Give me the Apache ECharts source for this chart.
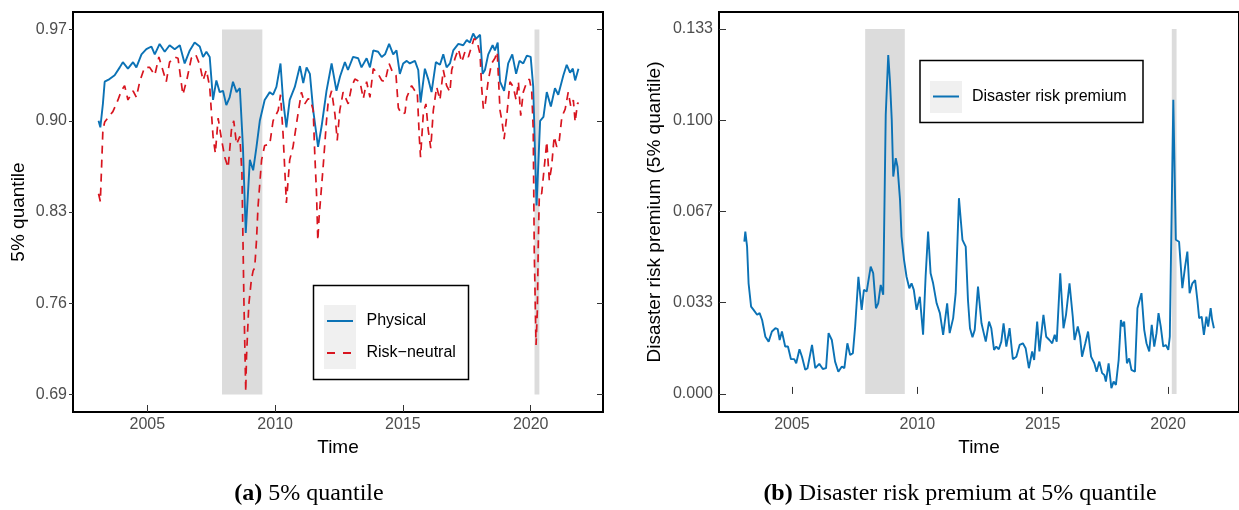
<!DOCTYPE html>
<html><head><meta charset="utf-8">
<script src="https://cdn.jsdelivr.net/npm/echarts@6/dist/echarts.min.js"></script>
<style>html,body{margin:0;padding:0;background:#fff}#c{width:1239px;height:510px}</style>
</head><body><div id="c"></div>
<script>
// ---- tick labels / categories ----
const xTicks = [2005, 2010, 2015, 2020];
const quantileTicks = [0.69, 0.76, 0.83, 0.90, 0.97];
const drpTicks = [0, 0.033333, 0.066667, 0.1, 0.133333];
const recessions = [[2007.92, 2009.50], [2020.15, 2020.34]];

// ---- Physical 5% quantile ----
const physYears = [
2003.09,2003.16,2003.26,2003.33,2003.52,2003.72,2003.92,2004.04,2004.24,2004.44,
2004.57,2004.77,2004.96,2005.16,2005.29,2005.48,2005.68,2005.87,2006.07,2006.27,
2006.46,2006.66,2006.85,2007.05,2007.18,2007.31,2007.44,2007.57,2007.70,2007.83,
2007.96,2008.09,2008.22,2008.35,2008.49,2008.62,2008.74,2008.85,2009.01,2009.14,
2009.27,2009.40,2009.59,2009.79,2009.92,2010.05,2010.21,2010.31,2010.44,2010.57,
2010.77,2010.97,2011.10,2011.23,2011.36,2011.49,2011.68,2011.82,2012.01,2012.21,
2012.40,2012.54,2012.73,2012.85,2013.05,2013.25,2013.38,2013.58,2013.71,2013.84,
2014.03,2014.17,2014.30,2014.46,2014.62,2014.75,2014.88,2015.01,2015.15,2015.27,
2015.47,2015.60,2015.69,2015.86,2015.99,2016.12,2016.29,2016.45,2016.58,2016.71,
2016.84,2016.97,2017.17,2017.36,2017.50,2017.62,2017.75,2017.86,2018.02,2018.12,
2018.21,2018.34,2018.51,2018.60,2018.71,2018.80,2018.96,2019.12,2019.28,2019.43,
2019.56,2019.71,2019.85,2020.00,2020.10,2020.17,2020.23,2020.37,2020.50,2020.63,
2020.79,2020.95,2021.08,2021.28,2021.41,2021.54,2021.65,2021.74,2021.87];
const physVals = [
0.900,0.895,0.913,0.930,0.932,0.935,0.941,0.945,0.940,0.945,
0.941,0.951,0.955,0.957,0.951,0.959,0.953,0.958,0.955,0.958,
0.944,0.954,0.960,0.957,0.949,0.953,0.949,0.916,0.931,0.922,
0.923,0.912,0.918,0.930,0.922,0.925,0.880,0.814,0.870,0.862,
0.880,0.900,0.916,0.922,0.920,0.926,0.944,0.916,0.895,0.916,
0.926,0.942,0.929,0.941,0.936,0.908,0.880,0.896,0.923,0.944,
0.923,0.934,0.945,0.939,0.949,0.948,0.941,0.948,0.941,0.954,
0.953,0.949,0.951,0.959,0.951,0.954,0.936,0.944,0.946,0.944,
0.946,0.939,0.914,0.940,0.932,0.922,0.945,0.943,0.951,0.941,
0.944,0.954,0.959,0.958,0.962,0.960,0.967,0.963,0.966,0.936,
0.939,0.951,0.958,0.954,0.960,0.930,0.923,0.944,0.951,0.936,
0.946,0.944,0.950,0.949,0.926,0.875,0.835,0.900,0.903,0.922,
0.911,0.925,0.920,0.935,0.943,0.937,0.940,0.931,0.940];

// ---- Risk-neutral 5% quantile ----
const rnYears = [
2003.09,2003.16,2003.26,2003.33,2003.52,2003.65,2003.85,2003.98,2004.11,2004.24,
2004.44,2004.57,2004.70,2004.89,2005.09,2005.29,2005.45,2005.74,2005.87,2006.07,
2006.20,2006.39,2006.55,2006.72,2006.89,2007.05,2007.18,2007.31,2007.44,2007.57,
2007.66,2007.77,2007.90,2008.03,2008.16,2008.29,2008.38,2008.49,2008.62,2008.70,
2008.78,2008.85,2008.88,2008.97,2009.07,2009.14,2009.20,2009.27,2009.33,2009.47,
2009.59,2009.79,2009.92,2010.12,2010.21,2010.31,2010.44,2010.57,2010.70,2010.90,
2011.03,2011.16,2011.29,2011.38,2011.49,2011.55,2011.62,2011.67,2011.72,2011.88,
2012.01,2012.07,2012.21,2012.34,2012.43,2012.53,2012.66,2012.86,2012.99,2013.12,
2013.32,2013.45,2013.58,2013.71,2013.84,2014.03,2014.17,2014.30,2014.46,2014.60,
2014.73,2014.82,2014.95,2015.08,2015.15,2015.34,2015.47,2015.56,2015.64,2015.69,
2015.80,2015.90,2015.99,2016.09,2016.19,2016.32,2016.45,2016.58,2016.71,2016.84,
2016.91,2017.04,2017.17,2017.30,2017.43,2017.56,2017.69,2017.78,2017.89,2018.02,
2018.08,2018.15,2018.21,2018.34,2018.47,2018.60,2018.69,2018.80,2018.89,2018.96,
2019.06,2019.19,2019.32,2019.43,2019.52,2019.61,2019.71,2019.85,2019.95,2020.04,
2020.10,2020.14,2020.21,2020.26,2020.30,2020.34,2020.43,2020.56,2020.63,2020.73,
2020.82,2020.92,2021.02,2021.12,2021.22,2021.35,2021.47,2021.57,2021.67,2021.74,
2021.83,2021.87];
const rnVals = [
0.844,0.838,0.893,0.899,0.904,0.907,0.916,0.923,0.927,0.916,
0.923,0.918,0.930,0.941,0.941,0.935,0.949,0.930,0.945,0.949,
0.948,0.920,0.932,0.948,0.951,0.943,0.931,0.939,0.926,0.888,
0.875,0.902,0.886,0.872,0.864,0.893,0.900,0.882,0.888,0.860,
0.760,0.692,0.719,0.759,0.778,0.785,0.787,0.808,0.834,0.870,
0.881,0.882,0.900,0.908,0.920,0.890,0.837,0.870,0.880,0.906,
0.922,0.913,0.917,0.916,0.908,0.875,0.844,0.808,0.826,0.865,
0.900,0.913,0.923,0.905,0.885,0.908,0.922,0.913,0.926,0.932,
0.930,0.917,0.930,0.918,0.940,0.936,0.931,0.930,0.944,0.937,
0.935,0.910,0.905,0.906,0.918,0.927,0.923,0.923,0.888,0.872,
0.906,0.913,0.893,0.879,0.908,0.926,0.916,0.939,0.927,0.922,
0.939,0.948,0.955,0.945,0.953,0.949,0.957,0.963,0.962,0.951,
0.926,0.909,0.911,0.931,0.944,0.948,0.953,0.908,0.898,0.886,
0.903,0.930,0.926,0.916,0.930,0.904,0.922,0.930,0.932,0.923,
0.893,0.800,0.728,0.754,0.808,0.844,0.844,0.870,0.884,0.854,
0.865,0.888,0.880,0.885,0.903,0.909,0.922,0.911,0.916,0.899,
0.913,0.914];

// ---- Disaster risk premium ----
const drpYears = [
2003.10,2003.14,2003.21,2003.27,2003.37,2003.47,2003.61,2003.71,2003.81,2003.94,
2004.07,2004.20,2004.34,2004.43,2004.51,2004.60,2004.73,2004.84,2004.96,2005.09,
2005.17,2005.30,2005.40,2005.53,2005.62,2005.80,2005.93,2006.09,2006.23,2006.36,
2006.46,2006.59,2006.72,2006.85,2006.99,2007.09,2007.21,2007.32,2007.43,2007.52,
2007.65,2007.78,2007.87,2007.98,2008.14,2008.24,2008.35,2008.44,2008.54,2008.64,
2008.74,2008.84,2008.91,2008.98,2009.04,2009.14,2009.21,2009.31,2009.37,2009.47,
2009.57,2009.68,2009.77,2009.86,2009.97,2010.10,2010.23,2010.33,2010.43,2010.53,
2010.63,2010.77,2010.90,2011.03,2011.19,2011.29,2011.43,2011.53,2011.66,2011.80,
2011.93,2012.02,2012.10,2012.20,2012.29,2012.42,2012.56,2012.65,2012.73,2012.86,
2012.95,2013.06,2013.15,2013.25,2013.35,2013.44,2013.55,2013.68,2013.81,2013.95,
2014.08,2014.21,2014.32,2014.45,2014.58,2014.66,2014.78,2014.87,2015.03,2015.14,
2015.27,2015.38,2015.48,2015.56,2015.70,2015.83,2015.93,2016.07,2016.20,2016.27,
2016.40,2016.49,2016.57,2016.70,2016.81,2016.93,2017.06,2017.15,2017.26,2017.37,
2017.46,2017.52,2017.63,2017.74,2017.83,2017.92,2018.03,2018.12,2018.19,2018.25,
2018.36,2018.45,2018.54,2018.68,2018.78,2018.85,2018.94,2019.05,2019.14,2019.25,
2019.35,2019.45,2019.54,2019.62,2019.71,2019.81,2019.91,2020.01,2020.07,2020.21,
2020.31,2020.44,2020.57,2020.68,2020.77,2020.86,2020.97,2021.08,2021.17,2021.24,
2021.34,2021.43,2021.53,2021.60,2021.70,2021.76,2021.83];
const drpVals = [
0.0556,0.0593,0.0538,0.0404,0.0319,0.0307,0.0289,0.0295,0.0270,0.0209,
0.0191,0.0228,0.0240,0.0237,0.0197,0.0228,0.0173,0.0173,0.0127,0.0127,
0.0112,0.0163,0.0136,0.0088,0.0094,0.0179,0.0094,0.0110,0.0091,0.0094,
0.0222,0.0197,0.0118,0.0081,0.0100,0.0094,0.0185,0.0142,0.0149,0.0246,
0.0428,0.0307,0.0380,0.0374,0.0465,0.0441,0.0313,0.0331,0.0398,0.0362,
0.1019,0.1238,0.1141,0.1001,0.0794,0.0861,0.0830,0.0709,0.0575,0.0490,
0.0428,0.0386,0.0404,0.0380,0.0307,0.0355,0.0216,0.0428,0.0593,0.0441,
0.0404,0.0331,0.0295,0.0216,0.0331,0.0222,0.0277,0.0368,0.0715,0.0563,
0.0538,0.0343,0.0240,0.0207,0.0234,0.0392,0.0258,0.0222,0.0191,0.0264,
0.0240,0.0161,0.0173,0.0163,0.0191,0.0258,0.0173,0.0240,0.0127,0.0136,
0.0179,0.0185,0.0167,0.0094,0.0155,0.0124,0.0264,0.0155,0.0289,0.0209,
0.0197,0.0185,0.0216,0.0191,0.0441,0.0240,0.0289,0.0404,0.0282,0.0197,
0.0246,0.0209,0.0136,0.0185,0.0228,0.0136,0.0112,0.0081,0.0118,0.0076,
0.0069,0.0045,0.0112,0.0021,0.0045,0.0033,0.0124,0.0270,0.0246,0.0264,
0.0112,0.0130,0.0088,0.0081,0.0313,0.0307,0.0368,0.0234,0.0185,0.0155,
0.0252,0.0173,0.0222,0.0295,0.0246,0.0173,0.0179,0.0161,0.0209,0.1074,
0.0563,0.0556,0.0386,0.0465,0.0520,0.0368,0.0404,0.0416,0.0343,0.0277,
0.0282,0.0216,0.0282,0.0246,0.0313,0.0270,0.0240];

const seriesNames = ['Physical', 'Risk\u2212neutral', 'Disaster risk premium'];
const captionA = '5% quantile';
const captionB = 'Disaster risk premium at 5% quantile';

// ---- styling ----
const SANS = '"Liberation Sans", Arial, Helvetica, sans-serif';
const SERIF = '"Liberation Serif", "Times New Roman", serif';
const BLUE = '#0b72b5';
const RED = '#d8151f';
const SHADE = '#dcdcdc';
const pairs = (xs, ys) => xs.map((x, i) => [x, ys[i]]);
const tickLbl = { color: '#4d4d4d', fontSize: 16, fontFamily: SANS };
const nameStyle = { color: '#000', fontSize: 19, fontFamily: SANS };

function xAxisFor(i) {
  return {
    gridIndex: i, type: 'value', min: 2002.09, max: 2022.83,
    name: 'Time', nameLocation: 'middle', nameGap: 24, nameTextStyle: nameStyle,
    axisLine: { show: false },
    axisTick: { show: true, inside: true, length: 7, customValues: xTicks, lineStyle: { color: '#333', width: 1 } },
    axisLabel: Object.assign({ margin: 5, customValues: xTicks, formatter: v => String(Math.round(v)) }, tickLbl),
    splitLine: { show: false }
  };
}

const chart = echarts.init(document.getElementById('c'), null, { renderer: 'canvas' });
chart.setOption({
  animation: false,
  backgroundColor: '#fff',
  grid: [
    { left: 73, right: 1239 - 603, top: 12, bottom: 510 - 412, show: true, borderColor: '#000', borderWidth: 2, backgroundColor: 'transparent' },
    { left: 719, right: 0, top: 12, bottom: 510 - 412, show: true, borderColor: '#000', borderWidth: 2, backgroundColor: 'transparent' }
  ],
  xAxis: [xAxisFor(0), xAxisFor(1)],
  yAxis: [
    {
      gridIndex: 0, type: 'value', min: 0.6765, max: 0.9835, position: 'left',
      name: '5% quantile', nameLocation: 'middle', nameGap: 45, nameTextStyle: nameStyle,
      axisLine: { show: false },
      axisTick: { show: true, inside: false, length: 4, customValues: quantileTicks, lineStyle: { color: '#333' } },
      axisLabel: Object.assign({ margin: 6, customValues: quantileTicks, formatter: v => v.toFixed(2) }, tickLbl),
      splitLine: { show: false }
    },
    {
      gridIndex: 0, type: 'value', min: 0.6765, max: 0.9835, position: 'right',
      axisLine: { show: false },
      axisTick: { show: true, inside: true, length: 6, customValues: quantileTicks, lineStyle: { color: '#333' } },
      axisLabel: { show: false }, splitLine: { show: false }
    },
    {
      gridIndex: 1, type: 'value', min: -0.0066, max: 0.1395, position: 'left',
      name: 'Disaster risk premium (5% quantile)', nameLocation: 'middle', nameGap: 55, nameTextStyle: nameStyle,
      axisLine: { show: false },
      axisTick: { show: true, inside: true, length: 7, customValues: drpTicks, lineStyle: { color: '#333' } },
      axisLabel: Object.assign({ margin: 6, customValues: drpTicks, formatter: v => v.toFixed(3) }, tickLbl),
      splitLine: { show: false }
    }
  ],
  series: [
    {
      type: 'line', xAxisIndex: 0, yAxisIndex: 0, data: [], z: 1, silent: true,
      markArea: { silent: true, itemStyle: { color: SHADE },
        data: recessions.map(r => [{ xAxis: r[0], yAxis: quantileTicks[0] }, { xAxis: r[1], yAxis: quantileTicks[quantileTicks.length - 1] }]) }
    },
    {
      name: seriesNames[0], type: 'line', xAxisIndex: 0, yAxisIndex: 0, z: 3,
      data: pairs(physYears, physVals), symbol: 'none', smooth: false,
      lineStyle: { color: BLUE, width: 1.9 }
    },
    {
      name: seriesNames[1], type: 'line', xAxisIndex: 0, yAxisIndex: 0, z: 4,
      data: pairs(rnYears, rnVals), symbol: 'none', smooth: false,
      lineStyle: { color: RED, width: 1.7, type: [8, 6] }
    },
    {
      type: 'line', xAxisIndex: 1, yAxisIndex: 2, data: [], z: 1, silent: true,
      markArea: { silent: true, itemStyle: { color: SHADE },
        data: recessions.map(r => [{ xAxis: r[0], yAxis: drpTicks[0] }, { xAxis: r[1], yAxis: drpTicks[drpTicks.length - 1] }]) }
    },
    {
      name: seriesNames[2], type: 'line', xAxisIndex: 1, yAxisIndex: 2, z: 3,
      data: pairs(drpYears, drpVals), symbol: 'none', smooth: false,
      lineStyle: { color: BLUE, width: 1.9 }
    }
  ],
  graphic: [
    // legend (a)
    { type: 'rect', shape: { x: 313.5, y: 285.5, width: 155, height: 94 }, style: { fill: '#fff', stroke: '#000', lineWidth: 1.5 }, z: 10 },
    { type: 'rect', shape: { x: 324, y: 305, width: 32, height: 64 }, style: { fill: '#f0f0f0' }, z: 11 },
    { type: 'line', shape: { x1: 327, y1: 321, x2: 353, y2: 321 }, style: { stroke: BLUE, lineWidth: 2 }, z: 12 },
    { type: 'line', shape: { x1: 327, y1: 353, x2: 353, y2: 353 }, style: { stroke: RED, lineWidth: 2, lineDash: [8, 8] }, z: 12 },
    { type: 'text', x: 366.5, y: 321, style: { text: seriesNames[0], fill: '#000', fontSize: 16, fontFamily: SANS, verticalAlign: 'middle', align: 'left' }, z: 12 },
    { type: 'text', x: 366.5, y: 353, style: { text: seriesNames[1], fill: '#000', fontSize: 16, fontFamily: SANS, verticalAlign: 'middle', align: 'left' }, z: 12 },
    // legend (b)
    { type: 'rect', shape: { x: 920, y: 60.5, width: 223, height: 62 }, style: { fill: '#fff', stroke: '#000', lineWidth: 1.5 }, z: 10 },
    { type: 'rect', shape: { x: 930, y: 81, width: 32, height: 32 }, style: { fill: '#f0f0f0' }, z: 11 },
    { type: 'line', shape: { x1: 933, y1: 96.5, x2: 959, y2: 96.5 }, style: { stroke: BLUE, lineWidth: 2 }, z: 12 },
    { type: 'text', x: 972, y: 97, style: { text: seriesNames[2], fill: '#000', fontSize: 16, fontFamily: SANS, verticalAlign: 'middle', align: 'left' }, z: 12 },
    // captions
    { type: 'text', x: 309, y: 494, style: { text: '{b|(a)} ' + captionA, fill: '#000', fontSize: 24, fontFamily: SERIF, align: 'center', verticalAlign: 'middle',
        rich: { b: { fontWeight: 'bold', fontSize: 24, fontFamily: SERIF, fill: '#000' } } }, z: 12 },
    { type: 'text', x: 960, y: 494, style: { text: '{b|(b)} ' + captionB, fill: '#000', fontSize: 24, fontFamily: SERIF, align: 'center', verticalAlign: 'middle',
        rich: { b: { fontWeight: 'bold', fontSize: 24, fontFamily: SERIF, fill: '#000' } } }, z: 12 }
  ]
});
</script></body></html>
